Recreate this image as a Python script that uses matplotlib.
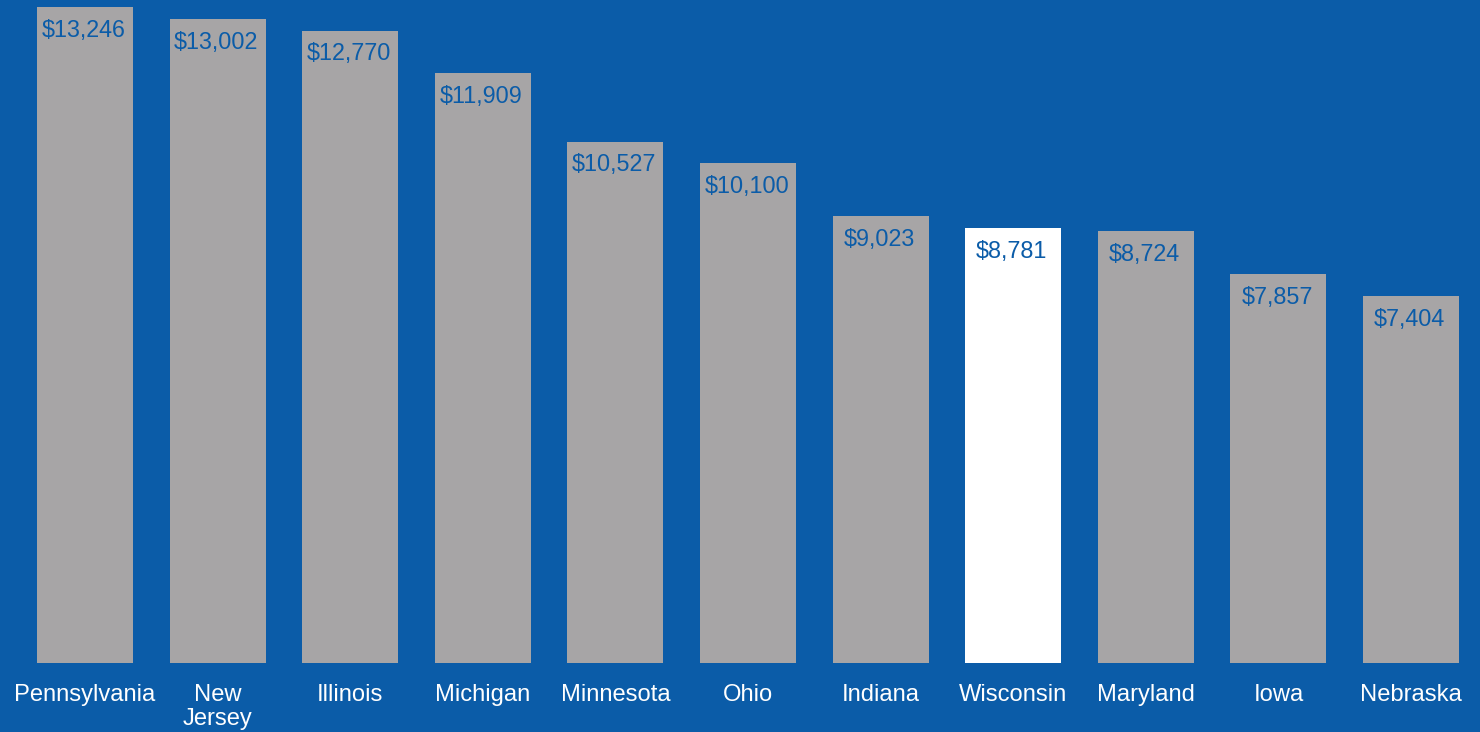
import matplotlib
matplotlib.use("Agg")
import matplotlib.pyplot as plt

states = ["Pennsylvania", "New\nJersey", "Illinois", "Michigan", "Minnesota", "Ohio",
          "Indiana", "Wisconsin", "Maryland", "Iowa", "Nebraska"]
values = [13246, 13002, 12770, 11909, 10527, 10100, 9023, 8781, 8724, 7857, 7404]
highlight = "Wisconsin"

BG = "#0b5ca8"
GRAY = "#a7a5a6"

plt.rcParams["font.family"] = ["Liberation Sans", "DejaVu Sans"]

fig = plt.figure(figsize=(14.8, 7.32), dpi=100, facecolor=BG)
ax = fig.add_axes([0, 69 / 732, 1, 663 / 732])
ax.set_facecolor(BG)

x = list(range(len(states)))
colors = ["white" if s == highlight else GRAY for s in states]
bars = ax.bar(x, values, width=0.724, color=colors)

for b, v in zip(bars, values):
    ax.annotate(f"${v:,}", (b.get_x() + b.get_width() / 2, v),
                xytext=(-1, -8.5), textcoords="offset points",
                ha="center", va="top", fontsize=16.8, color=BG)

ax.set_xlim(-85 / 132.6, (1480 - 85) / 132.6)
ax.set_ylim(0, 13386)
ax.set_xticks(x)
ax.set_xticklabels(states, fontsize=17.1, color="white", linespacing=1.1)
ax.tick_params(axis="x", length=0, pad=15)
ax.set_yticks([])
for sp in ax.spines.values():
    sp.set_visible(False)

fig.savefig("out.png", dpi=100, facecolor=BG)
